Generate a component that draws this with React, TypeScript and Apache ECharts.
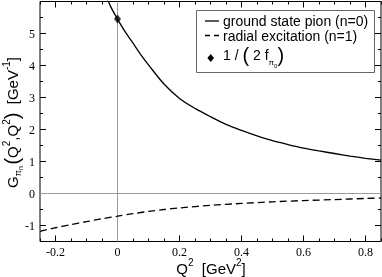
import React, { useEffect, useRef } from "react";
import * as echarts from "echarts";

// ---- data ----
const groundQ2 = [-0.036, -0.02, 0, 0.025, 0.05, 0.075, 0.1, 0.15, 0.2, 0.25, 0.3, 0.35, 0.4, 0.45, 0.5, 0.55, 0.6, 0.65, 0.7, 0.75, 0.8, 0.85];
const groundG = [6.15, 5.8, 5.45, 5.05, 4.7, 4.34, 4.02, 3.42, 2.97, 2.66, 2.4, 2.16, 1.97, 1.8, 1.65, 1.53, 1.42, 1.33, 1.25, 1.17, 1.1, 1.04];
const excitedQ2 = [-0.25, -0.2, -0.15, -0.1, -0.05, 0, 0.05, 0.1, 0.15, 0.2, 0.3, 0.4, 0.5, 0.6, 0.7, 0.8, 0.85];
const excitedG = [-1.18, -1.07, -0.97, -0.88, -0.79, -0.71, -0.63, -0.56, -0.5, -0.45, -0.37, -0.31, -0.26, -0.22, -0.19, -0.155, -0.14];
const pointQ2 = [0];
const pointG = [5.45];
const xMajorTicks = [-0.2, 0, 0.2, 0.4, 0.6, 0.8];
const yMajorTicks = [-1, 0, 1, 2, 3, 4, 5];

const SANS = "'Liberation Sans', Arial, sans-serif";
const SERIF = "'Liberation Serif', 'Times New Roman', serif";

type Piece = { t: string; size: number; base: number; family?: string };

let ctx: CanvasRenderingContext2D | null = null;
function measure(t: string, size: number, family: string) {
  if (!ctx) ctx = document.createElement("canvas").getContext("2d");
  if (!ctx) return t.length * size * 0.55;
  ctx.font = `${size}px ${family}`;
  return ctx.measureText(t).width;
}

// lay out pieces left to right; baseline at y=0 of local frame
function seq(pieces: Piece[], z: number) {
  let x = 0;
  const els: any[] = [];
  for (const p of pieces) {
    const fam = p.family || SANS;
    els.push({
      type: "text",
      x,
      y: p.base - 0.33 * p.size,
      z,
      silent: true,
      style: {
        text: p.t,
        fontSize: p.size,
        fontFamily: fam,
        fill: "#000",
        align: "left",
        verticalAlign: "middle",
      },
    });
    x += measure(p.t, p.size, fam);
  }
  return { els, width: x };
}

export default function App() {
  const ref = useRef<HTMLDivElement>(null);
  useEffect(() => {
    if (!ref.current) return;
    const chart = echarts.init(ref.current, undefined, { renderer: "svg" });

    const yTitle = seq([
      { t: "G", size: 15, base: 0 },
      { t: "π", size: 9, base: 4 },
      { t: "n", size: 7, base: 6 },
      { t: " ", size: 6, base: 0 },
      { t: "(", size: 20, base: 2 },
      { t: "Q", size: 15, base: 0 },
      { t: "2", size: 10, base: -7 },
      { t: ",", size: 15, base: 0 },
      { t: "Q", size: 15, base: 0 },
      { t: "2", size: 10, base: -7 },
      { t: ")", size: 20, base: 2 },
      { t: "  ", size: 15, base: 0 },
      { t: "[GeV", size: 15, base: 0 },
      { t: "-1", size: 10, base: -7 },
      { t: "]", size: 15, base: 0 },
    ], 5);
    const xTitle = seq([
      { t: "Q", size: 15, base: 0 },
      { t: "2", size: 10, base: -7 },
      { t: "  ", size: 15, base: 0 },
      { t: "[GeV", size: 15, base: 0 },
      { t: "2", size: 10, base: -7 },
      { t: "]", size: 15, base: 0 },
    ], 5);
    const legend3 = seq([
      { t: "1 / ", size: 14, base: 0 },
      { t: "(", size: 20, base: 2 },
      { t: " 2 ", size: 14, base: 0 },
      { t: "f", size: 14, base: 0 },
      { t: "π", size: 8, base: 5 },
      { t: "0", size: 6, base: 8 },
      { t: ")", size: 20, base: 2 },
    ], 12);

    const noLine = { show: false, onZero: false };
    const minorTick = { show: true, inside: true, length: 3, lineStyle: { color: "#000", width: 1 } };
    const majorTick = (vals: number[]) => ({ show: true, inside: true, length: 6, customValues: vals, lineStyle: { color: "#000", width: 1 } });

    chart.setOption({
      animation: false,
      grid: { left: 40, right: 1, top: 1.5, bottom: 35.5, show: true, borderColor: "#000", borderWidth: 1, backgroundColor: "transparent", outerBoundsMode: "none" },
      xAxis: [
        {
          type: "value", min: -0.25, max: 0.85, position: "bottom",
          axisLine: noLine, splitLine: { show: false },
          axisTick: majorTick(xMajorTicks),
          axisLabel: { customValues: xMajorTicks, fontFamily: SERIF, fontSize: 12, color: "#000", margin: 4, formatter: (v: number) => String(Math.round(v * 10) / 10) },
        },
        { type: "value", min: -0.25, max: 0.85, interval: 0.05, position: "bottom", axisLine: noLine, splitLine: { show: false }, axisTick: minorTick, axisLabel: { show: false } },
        { type: "value", min: -0.25, max: 0.85, position: "top", axisLine: noLine, splitLine: { show: false }, axisTick: majorTick(xMajorTicks), axisLabel: { show: false } },
        { type: "value", min: -0.25, max: 0.85, interval: 0.05, position: "top", axisLine: noLine, splitLine: { show: false }, axisTick: minorTick, axisLabel: { show: false } },
      ],
      yAxis: [
        {
          type: "value", min: -1.5, max: 6, position: "left",
          axisLine: noLine, splitLine: { show: false },
          axisTick: majorTick(yMajorTicks),
          axisLabel: { customValues: yMajorTicks, fontFamily: SERIF, fontSize: 12, color: "#000", margin: 5 },
        },
        { type: "value", min: -1.5, max: 6, interval: 0.5, position: "left", axisLine: noLine, splitLine: { show: false }, axisTick: minorTick, axisLabel: { show: false } },
        { type: "value", min: -1.5, max: 6, position: "right", axisLine: noLine, splitLine: { show: false }, axisTick: majorTick(yMajorTicks), axisLabel: { show: false } },
        { type: "value", min: -1.5, max: 6, interval: 0.5, position: "right", axisLine: noLine, splitLine: { show: false }, axisTick: minorTick, axisLabel: { show: false } },
      ],
      series: [
        {
          name: "ground state pion (n=0)",
          type: "line",
          data: groundQ2.map((q, i) => [q, groundG[i]]),
          smooth: 0.3,
          showSymbol: false,
          lineStyle: { color: "#000", width: 1.3 },
          z: 3,
          markLine: {
            silent: true,
            symbol: ["none", "none"],
            label: { show: false },
            lineStyle: { color: "#9a9a9a", width: 1, type: "solid" },
            data: [{ xAxis: 0 }, { yAxis: 0 }],
            z: 1,
          },
        },
        {
          name: "radial excitation (n=1)",
          type: "line",
          data: excitedQ2.map((q, i) => [q, excitedG[i]]),
          smooth: 0.3,
          showSymbol: false,
          lineStyle: { color: "#000", width: 1.3, type: [7, 4] },
          z: 3,
        },
        {
          name: "1 / (2 f_π0)",
          type: "scatter",
          data: pointQ2.map((q, i) => [q, pointG[i]]),
          symbol: "diamond",
          symbolSize: [7, 9],
          itemStyle: { color: "#000" },
          z: 4,
        },
      ],
      graphic: [
        { type: "group", x: 17, y: 188, rotation: Math.PI / 2, children: yTitle.els },
        { type: "group", x: 211 - xTitle.width / 2, y: 273, children: xTitle.els },
        {
          type: "rect", shape: { x: 196.5, y: 10.5, width: 178, height: 62 },
          style: { fill: "#fff", stroke: "#666", lineWidth: 1 }, z: 10,
        },
        { type: "line", shape: { x1: 205, y1: 21, x2: 219, y2: 21 }, style: { stroke: "#000", lineWidth: 1.3 }, z: 11 },
        { type: "line", shape: { x1: 205, y1: 35.5, x2: 219, y2: 35.5 }, style: { stroke: "#000", lineWidth: 1.3, lineDash: [5, 4] }, z: 11 },
        { type: "polygon", shape: { points: [[210.7, 54], [214, 58], [210.7, 62], [207.4, 58]] }, style: { fill: "#000" }, z: 11 },
        {
          type: "text", x: 223, y: 21, z: 11,
          style: { text: "ground state pion (n=0)", fontSize: 14, fontFamily: SANS, fill: "#000", verticalAlign: "middle" },
        },
        {
          type: "text", x: 223, y: 35.5, z: 11,
          style: { text: "radial excitation (n=1)", fontSize: 14, fontFamily: SANS, fill: "#000", verticalAlign: "middle" },
        },
        { type: "group", x: 223, y: 60, z: 12, children: legend3.els },
      ],
    });
    return () => chart.dispose();
  }, []);
  return <div ref={ref} style={{ position: "fixed", left: 0, top: 0, width: 382, height: 277 }} />;
}
